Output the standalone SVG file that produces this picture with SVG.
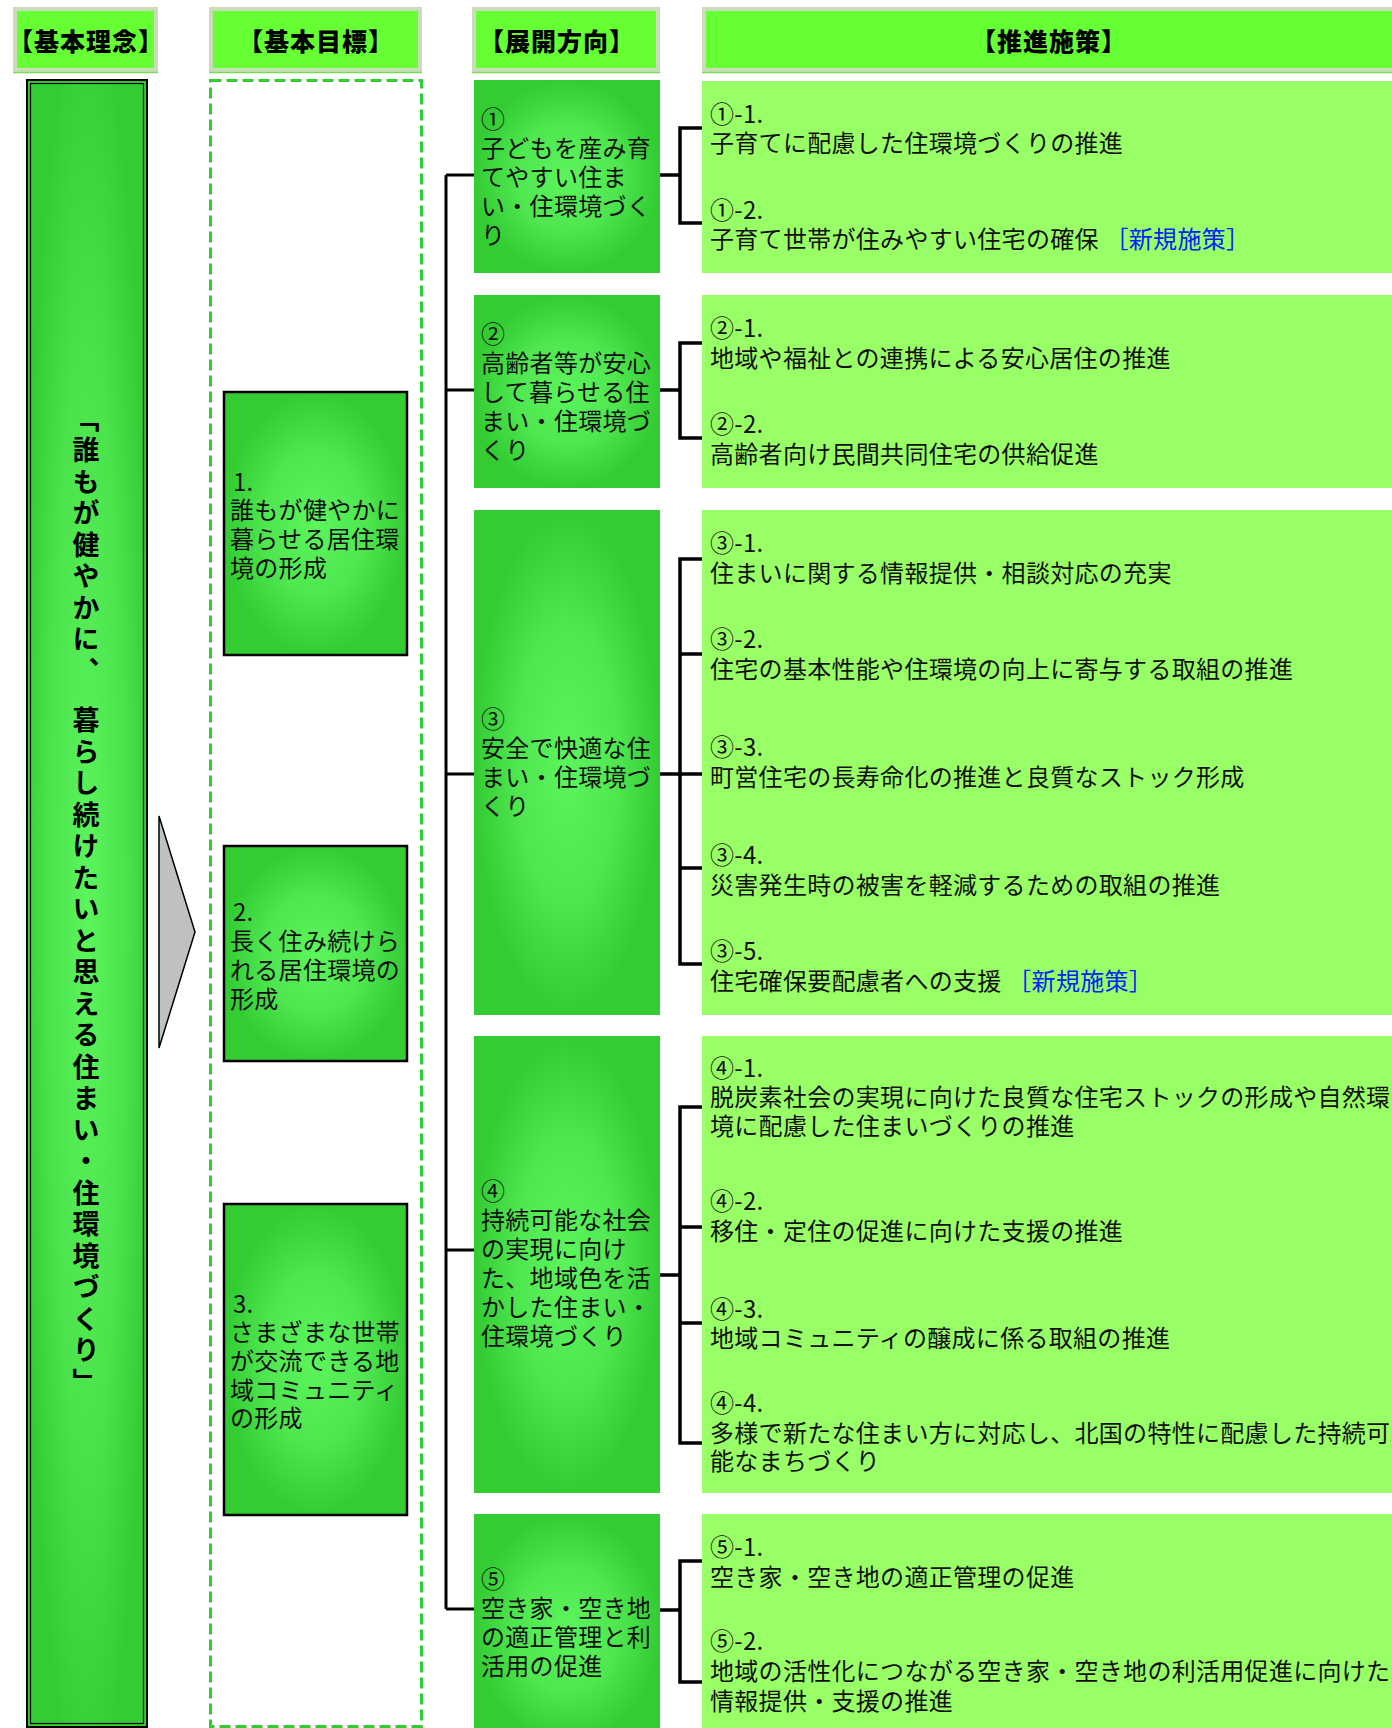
<svg xmlns="http://www.w3.org/2000/svg" width="1392" height="1728" viewBox="0 0 1392 1728">
<defs>
<radialGradient id="g" cx="0.5" cy="0.5" r="0.5">
<stop offset="0" stop-color="#5cf55c"/>
<stop offset="0.55" stop-color="#4fe64f"/>
<stop offset="1" stop-color="#33cc33"/>
</radialGradient>
<radialGradient id="gl" cx="0.5" cy="0.5" r="0.55">
<stop offset="0" stop-color="#5cf55c"/>
<stop offset="0.6" stop-color="#4be24b"/>
<stop offset="1" stop-color="#33cc33"/>
</radialGradient>
</defs>
<style>
.hd{fill:#66ff33;stroke:#cbdcbd;stroke-width:4}
.hl{stroke:#77dd55;stroke-width:1.5}
.ht{font-family:"Noto Sans CJK JP","Noto Sans",sans-serif;font-size:25px;font-weight:900;fill:#000;text-anchor:middle;letter-spacing:1px}
.t{font-family:"Noto Sans CJK JP","Noto Sans",sans-serif;font-size:24px;fill:#111;letter-spacing:0.3px}
.dir{fill:url(#g)}
.goal{fill:url(#g);stroke:#000;stroke-width:2.5}
.ms{fill:#99ff66}
.new{fill:#0022ff}
.ln{stroke:#000;stroke-width:3;fill:none}
.br{stroke:#000;stroke-width:3.5;fill:none}
</style>
<rect width="1392" height="1728" fill="#fff"/>

<g id="header-kihonrinen">
<rect class="hd" x="15" y="9" width="141" height="61"/>
<line class="hl" x1="13" y1="72.5" x2="158" y2="72.5"/>
<text class="ht" x="86" y="51">【基本理念】</text>
</g>
<g id="header-kihonmokuhyo">
<rect class="hd" x="211" y="9" width="209" height="61"/>
<line class="hl" x1="209" y1="72.5" x2="422" y2="72.5"/>
<text class="ht" x="316" y="51">【基本目標】</text>
</g>
<g id="header-tenkaihoko">
<rect class="hd" x="474" y="9" width="184" height="61"/>
<line class="hl" x1="472" y1="72.5" x2="660" y2="72.5"/>
<text class="ht" x="557" y="51">【展開方向】</text>
</g>
<g id="header-suishinsesaku">
<rect class="hd" x="704" y="9" width="700" height="61"/>
<line class="hl" x1="702" y1="72.5" x2="1392" y2="72.5"/>
<text class="ht" x="1049" y="51">【推進施策】</text>
</g>

<g id="rinen">
<rect x="27" y="80" width="120" height="1647" fill="url(#gl)" stroke="#000" stroke-width="2"/>
<rect x="30.5" y="83.5" width="113" height="1640" fill="none" stroke="#000" stroke-width="1.2"/>
<text x="86" y="405" font-family="'Noto Sans CJK JP',sans-serif" font-size="27" font-weight="bold" fill="#000" writing-mode="vertical-rl" letter-spacing="4.5">「誰もが健やかに、　暮らし続けたいと思える住まい・住環境づくり」</text>
</g>

<g id="arrow">
<polygon points="159,816 195,932 159,1048" fill="#c0c0c0" stroke="#000" stroke-width="1.5"/>
</g>

<g id="mokuhyo-frame">
<rect x="210.5" y="80.5" width="211" height="1646" fill="none" stroke="#33cc33" stroke-width="3" stroke-dasharray="11 5"/>
</g>

<g id="goal1">
<rect class="goal" x="224" y="392" width="183" height="263"/>
<text class="t"><tspan x="233" y="491">1.</tspan><tspan x="230" y="519">誰もが健やかに</tspan><tspan x="230" y="548">暮らせる居住環</tspan><tspan x="230" y="577">境の形成</tspan></text>
</g>
<g id="goal2">
<rect class="goal" x="224" y="846" width="183" height="215"/>
<text class="t"><tspan x="233" y="921">2.</tspan><tspan x="230" y="950">長く住み続けら</tspan><tspan x="230" y="979">れる居住環境の</tspan><tspan x="230" y="1008">形成</tspan></text>
</g>
<g id="goal3">
<rect class="goal" x="224" y="1204" width="183" height="311"/>
<text class="t"><tspan x="233" y="1313">3.</tspan><tspan x="230" y="1341">さまざまな世帯</tspan><tspan x="230" y="1370">が交流できる地</tspan><tspan x="230" y="1399">域コミュニティ</tspan><tspan x="230" y="1427">の形成</tspan></text>
</g>

<g id="dir1">
<rect class="dir" x="474" y="80" width="186" height="193"/>
<text class="t"><tspan x="481" y="128">①</tspan><tspan x="481" y="157">子どもを産み育</tspan><tspan x="481" y="186">てやすい住ま</tspan><tspan x="481" y="215">い・住環境づく</tspan><tspan x="481" y="244">り</tspan></text>
</g>
<g id="dir2">
<rect class="dir" x="474" y="295" width="186" height="193"/>
<text class="t"><tspan x="481" y="343">②</tspan><tspan x="481" y="372">高齢者等が安心</tspan><tspan x="481" y="401">して暮らせる住</tspan><tspan x="481" y="430">まい・住環境づ</tspan><tspan x="481" y="459">くり</tspan></text>
</g>
<g id="dir3">
<rect class="dir" x="474" y="510" width="186" height="505"/>
<text class="t"><tspan x="481" y="728">③</tspan><tspan x="481" y="757">安全で快適な住</tspan><tspan x="481" y="786">まい・住環境づ</tspan><tspan x="481" y="815">くり</tspan></text>
</g>
<g id="dir4">
<rect class="dir" x="474" y="1036" width="186" height="457"/>
<text class="t"><tspan x="481" y="1200">④</tspan><tspan x="481" y="1229">持続可能な社会</tspan><tspan x="481" y="1258">の実現に向け</tspan><tspan x="481" y="1287">た、地域色を活</tspan><tspan x="481" y="1316">かした住まい・</tspan><tspan x="481" y="1345">住環境づくり</tspan></text>
</g>
<g id="dir5">
<rect class="dir" x="474" y="1514" width="186" height="230"/>
<text class="t"><tspan x="481" y="1588">⑤</tspan><tspan x="481" y="1617">空き家・空き地</tspan><tspan x="481" y="1646">の適正管理と利</tspan><tspan x="481" y="1675">活用の促進</tspan></text>
</g>

<g id="measure1">
<rect class="ms" x="702" y="81" width="700" height="192"/>
<text class="t"><tspan x="710" y="123">①-1.</tspan><tspan x="710" y="152">子育てに配慮した住環境づくりの推進</tspan></text>
<text class="t"><tspan x="710" y="219">①-2.</tspan><tspan x="710" y="248">子育て世帯が住みやすい住宅の確保 </tspan><tspan class="new">［新規施策］</tspan></text>
</g>
<g id="measure2">
<rect class="ms" x="702" y="295" width="700" height="193"/>
<text class="t"><tspan x="710" y="337">②-1.</tspan><tspan x="710" y="367">地域や福祉との連携による安心居住の推進</tspan></text>
<text class="t"><tspan x="710" y="433">②-2.</tspan><tspan x="710" y="463">高齢者向け民間共同住宅の供給促進</tspan></text>
</g>
<g id="measure3">
<rect class="ms" x="702" y="510" width="700" height="505"/>
<text class="t"><tspan x="710" y="552">③-1.</tspan><tspan x="710" y="582">住まいに関する情報提供・相談対応の充実</tspan></text>
<text class="t"><tspan x="710" y="648">③-2.</tspan><tspan x="710" y="678">住宅の基本性能や住環境の向上に寄与する取組の推進</tspan></text>
<text class="t"><tspan x="710" y="756">③-3.</tspan><tspan x="710" y="786">町営住宅の長寿命化の推進と良質なストック形成</tspan></text>
<text class="t"><tspan x="710" y="864">③-4.</tspan><tspan x="710" y="894">災害発生時の被害を軽減するための取組の推進</tspan></text>
<text class="t"><tspan x="710" y="960">③-5.</tspan><tspan x="710" y="990">住宅確保要配慮者への支援 </tspan><tspan class="new">［新規施策］</tspan></text>
</g>
<g id="measure4">
<rect class="ms" x="702" y="1036" width="700" height="457"/>
<text class="t"><tspan x="710" y="1077">④-1.</tspan><tspan x="710" y="1106">脱炭素社会の実現に向けた良質な住宅ストックの形成や自然環</tspan><tspan x="710" y="1135">境に配慮した住まいづくりの推進</tspan></text>
<text class="t"><tspan x="710" y="1210">④-2.</tspan><tspan x="710" y="1240">移住・定住の促進に向けた支援の推進</tspan></text>
<text class="t"><tspan x="710" y="1318">④-3.</tspan><tspan x="710" y="1347">地域コミュニティの醸成に係る取組の推進</tspan></text>
<text class="t"><tspan x="710" y="1412">④-4.</tspan><tspan x="710" y="1442">多様で新たな住まい方に対応し、北国の特性に配慮した持続可</tspan><tspan x="710" y="1470">能なまちづくり</tspan></text>
</g>
<g id="measure5">
<rect class="ms" x="702" y="1514" width="700" height="230"/>
<text class="t"><tspan x="710" y="1556">⑤-1.</tspan><tspan x="710" y="1586">空き家・空き地の適正管理の促進</tspan></text>
<text class="t"><tspan x="710" y="1650">⑤-2.</tspan><tspan x="710" y="1680">地域の活性化につながる空き家・空き地の利活用促進に向けた</tspan><tspan x="710" y="1710">情報提供・支援の推進</tspan></text>
</g>

<g id="connectors">
<path class="ln" d="M446,175 V1609"/>
<path class="ln" d="M446,175 H474 M446,390 H474 M446,774 H474 M446,1250 H474 M446,1609 H474"/>
<path class="br" d="M660,175 H680 M702,128 H680 V223 H702"/>
<path class="br" d="M660,390 H680 M702,343 H680 V438 H702"/>
<path class="br" d="M660,774 H702 M702,559 H680 V964 H702 M680,654 H702 M680,868 H702"/>
<path class="br" d="M660,1275 H680 M702,1107 H680 V1443 H702 M680,1227 H702 M680,1323 H702"/>
<path class="br" d="M660,1610 H680 M702,1561 H680 V1682 H702"/>
</g>
</svg>
